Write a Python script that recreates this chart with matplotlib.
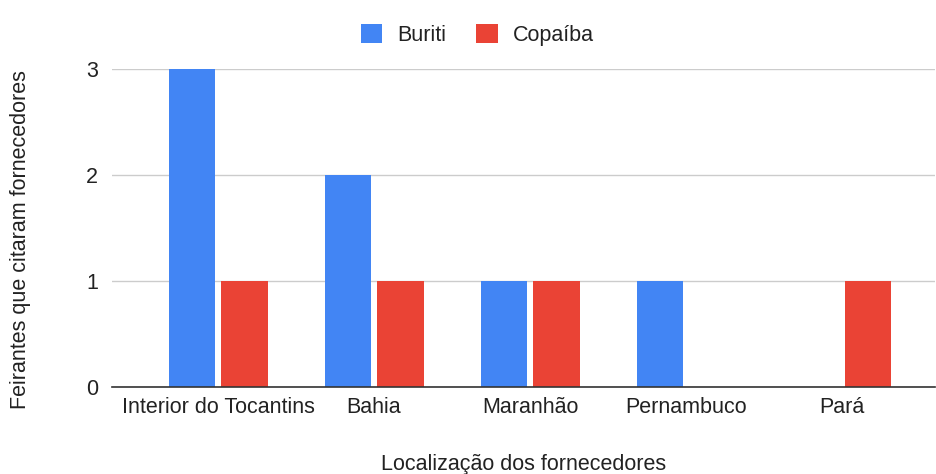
import matplotlib.pyplot as plt
import numpy as np

plt.rcParams['font.family'] = ['Liberation Sans', 'DejaVu Sans']

categories = ["Interior do Tocantins", "Bahia", "Maranhão", "Pernambuco", "Pará"]
buriti = [3, 2, 1, 1, 0]
copaiba = [1, 1, 1, 0, 1]
series_names = ["Buriti", "Copaíba"]
colors = ["#4285F4", "#EA4335"]
y_ticks = [0, 1, 2, 3]

FS = 15.5
TXT = '#222222'

fig = plt.figure(figsize=(9.36, 4.74), dpi=100)
ax = fig.add_axes([112 / 936, 87 / 474, 823 / 936, 318 / 474])

x = np.arange(len(categories))
width = 0.30
offset = 0.167
ax.bar(x - offset, buriti, width, color=colors[0], label=series_names[0], zorder=3)
ax.bar(x + offset, copaiba, width, color=colors[1], label=series_names[1], zorder=3)

ax.set_xlim(-0.68, 4.596)
ax.set_ylim(0, 3)
ax.set_yticks(y_ticks)
ax.set_xticks(x)
ax.set_xticklabels(categories)
ax.tick_params(axis='both', length=0, labelsize=FS, colors=TXT)
ax.tick_params(axis='y', pad=10)
ax.tick_params(axis='x', pad=7)

ax.grid(axis='y', color='#cccccc', linewidth=1, zorder=0)
for side in ['top', 'right', 'left']:
    ax.spines[side].set_visible(False)
ax.spines['bottom'].set_color('#333333')
ax.spines['bottom'].set_linewidth(1.2)
ax.spines['bottom'].set_zorder(4)

ax.set_xlabel("Localização dos fornecedores", fontsize=FS, color=TXT, labelpad=26)
ax.set_ylabel("Feirantes que citaram fornecedores", fontsize=FS, color=TXT)
ax.yaxis.set_label_coords(-0.098, 0.465)

fig.legend(loc='upper center', bbox_to_anchor=(0.51, 0.99), ncol=2, frameon=False,
           fontsize=FS, handlelength=1.0, handleheight=1.0, handletextpad=0.7,
           columnspacing=1.4, labelcolor=TXT)

fig.savefig("out.png", dpi=100)
